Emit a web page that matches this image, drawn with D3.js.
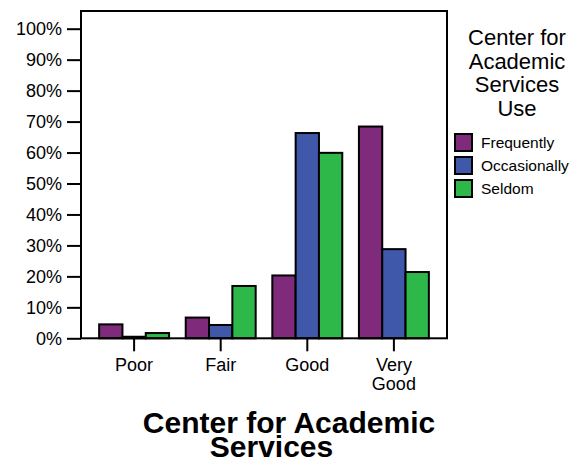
<!DOCTYPE html>
<html><head><meta charset="utf-8">
<script src="https://cdn.jsdelivr.net/npm/d3@7"></script>
<style>
html,body{margin:0;padding:0;background:#fff;}
svg{display:block;font-family:"Liberation Sans",Arial,Helvetica,sans-serif;}
</style></head>
<body>
<svg id="chart" width="583" height="463"></svg>
<script>
const categories = ["Poor", "Fair", "Good", "Very Good"];
const categoryLines = [["Poor"], ["Fair"], ["Good"], ["Very", "Good"]];
const seriesNames = ["Frequently", "Occasionally", "Seldom"];
const frequently = [4.5, 6.7, 20.3, 68.4];
const occasionally = [0.5, 4.3, 66.3, 28.8];
const seldom = [1.7, 16.9, 59.9, 21.4];
const yTicks = [0, 10, 20, 30, 40, 50, 60, 70, 80, 90, 100];
const colors = ["#7f2a7b", "#3f58aa", "#2fb84a"];
const legendTitle = ["Center for", "Academic", "Services", "Use"];
const chartTitle = ["Center for Academic", "Services"];

const seriesValues = [frequently, occasionally, seldom];
const svg = d3.select("#chart");

const pLeft = 81, pRight = 447, pTop = 11, pBottom = 338.3;

const x = d3.scaleBand().domain(categories).range([pLeft, pRight])
  .paddingInner(0.1923).paddingOuter(0.2094);
const xs = d3.scaleBand().domain(seriesNames).range([0, x.bandwidth()]).padding(0);
const y = d3.scaleLinear().domain([0, 100]).range([pBottom, 28.7]);

// bars
categories.forEach((c, ci) => {
  const g = svg.append("g").attr("transform", `translate(${x(c)},0)`);
  seriesNames.forEach((s, si) => {
    const v = seriesValues[si][ci];
    g.append("rect")
      .attr("x", xs(s)).attr("width", xs.bandwidth())
      .attr("y", y(v)).attr("height", y(0) - y(v))
      .attr("fill", colors[si]).attr("stroke", "#000").attr("stroke-width", 2);
  });
});

// frame
svg.append("rect").attr("x", pLeft).attr("y", pTop)
  .attr("width", pRight - pLeft).attr("height", pBottom - pTop)
  .attr("fill", "none").attr("stroke", "#000").attr("stroke-width", 2);

// y axis
const yAxis = d3.axisLeft(y).tickValues(yTicks).tickSize(14).tickPadding(5)
  .tickFormat(d => d + "%");
const ya = svg.append("g").attr("transform", `translate(${pLeft},0)`).call(yAxis);
ya.select(".domain").remove();
ya.selectAll(".tick line").attr("stroke", "#000").attr("stroke-width", 2);
ya.selectAll(".tick text").attr("font-size", 18).attr("fill", "#000")
  .attr("font-family", '"Liberation Sans",Arial,sans-serif');

// x axis
const xAxis = d3.axisBottom(x).tickSize(13).tickFormat("");
const xa = svg.append("g").attr("transform", `translate(0,${pBottom})`).call(xAxis);
xa.select(".domain").remove();
xa.selectAll(".tick line").attr("stroke", "#000").attr("stroke-width", 2);
categories.forEach((c, ci) => {
  const t = svg.append("text").attr("text-anchor", "middle")
    .attr("font-size", 18).attr("fill", "#000")
    .attr("x", x(c) + x.bandwidth() / 2).attr("y", 371);
  categoryLines[ci].forEach((ln, li) => {
    t.append("tspan").attr("x", x(c) + x.bandwidth() / 2)
      .attr("dy", li === 0 ? 0 : 19).text(ln);
  });
});

// chart title
svg.append("text").attr("text-anchor", "middle").attr("x", 289).attr("y", 433)
  .attr("font-size", 30).attr("font-weight", "bold").text(chartTitle[0]);
svg.append("text").attr("text-anchor", "middle").attr("x", 271.5).attr("y", 457)
  .attr("font-size", 30).attr("font-weight", "bold").text(chartTitle[1]);

// legend
legendTitle.forEach((t, i) => {
  svg.append("text").attr("text-anchor", "middle").attr("x", 517)
    .attr("y", 45 + i * 23.6).attr("font-size", 22).text(t);
});
seriesNames.forEach((s, i) => {
  svg.append("rect").attr("x", 455).attr("y", 134 + i * 23)
    .attr("width", 17).attr("height", 17)
    .attr("fill", colors[i]).attr("stroke", "#000").attr("stroke-width", 2);
  svg.append("text").attr("x", 481).attr("y", 148 + i * 23)
    .attr("font-size", 15.5).text(s);
});
</script>
</body></html>
